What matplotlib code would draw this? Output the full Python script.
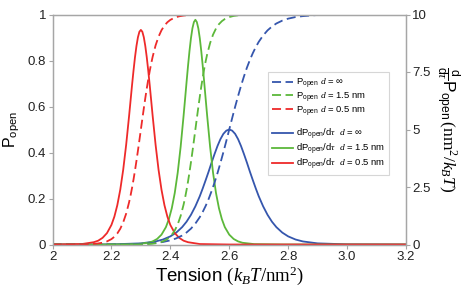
import matplotlib
matplotlib.use("Agg")
import matplotlib.pyplot as plt
from matplotlib.lines import Line2D

plt.rcParams['font.family'] = ['Liberation Sans', 'DejaVu Sans']
plt.rcParams['mathtext.fontset'] = 'custom'
plt.rcParams['mathtext.rm'] = 'Liberation Serif'
plt.rcParams['mathtext.sf'] = 'Liberation Sans'
plt.rcParams['mathtext.it'] = 'Liberation Serif:italic'

# data
# d = 0.5 nm (red)
x_red = [2.00, 2.10, 2.14, 2.155, 2.17, 2.185, 2.20, 2.21, 2.22, 2.23, 2.24, 2.25, 2.26, 2.265,
         2.27, 2.275, 2.28, 2.285, 2.29, 2.295, 2.30, 2.305, 2.31, 2.315, 2.32, 2.325, 2.33, 2.335,
         2.34, 2.35, 2.36, 2.37, 2.38, 2.39, 2.40, 2.415, 2.43, 2.445, 2.46, 2.50, 2.60, 3.20]
p_red = [0.0, 0.0006, 0.0026, 0.0045, 0.0078, 0.0135, 0.0234, 0.0336, 0.0481, 0.0684, 0.0965, 0.134,
         0.1836, 0.2132, 0.2462, 0.2823, 0.3217, 0.3636, 0.4078, 0.4535, 0.5, 0.5465, 0.5922, 0.6364,
         0.6783, 0.7177, 0.7538, 0.7868, 0.8164, 0.866, 0.9035, 0.9316, 0.9519, 0.9664, 0.9766, 0.9865,
         0.9922, 0.9955, 0.9974, 0.9994, 1.0, 1.0]
dp_red = [0.0, 0.02, 0.10, 0.165, 0.29, 0.497, 0.85, 1.21, 1.71, 2.38, 3.25, 4.33, 5.59, 6.26,
          6.93, 7.56, 8.14, 8.63, 9.01, 9.25, 9.33, 9.25, 9.01, 8.63, 8.14, 7.56, 6.93, 6.26,
          5.59, 4.33, 3.25, 2.38, 1.71, 1.21, 0.85, 0.497, 0.29, 0.165, 0.10, 0.02, 0.0, 0.0]

# d = 1.5 nm (green)
x_green = [2.00, 2.185, 2.285, 2.325, 2.34, 2.355, 2.37, 2.385, 2.395, 2.405, 2.415, 2.425, 2.435,
           2.445, 2.45, 2.455, 2.46, 2.465, 2.47, 2.475, 2.48, 2.485, 2.49, 2.495, 2.50, 2.505, 2.51,
           2.515, 2.52, 2.525, 2.535, 2.545, 2.555, 2.565, 2.575, 2.585, 2.60, 2.615, 2.63, 2.645,
           2.685, 2.785, 3.20]
p_green = [0.0, 0.0, 0.0004, 0.0019, 0.0035, 0.0062, 0.0111, 0.0197, 0.0289, 0.0421, 0.0610, 0.0875,
           0.1242, 0.1733, 0.2031, 0.2365, 0.2736, 0.3141, 0.3576, 0.4035, 0.4513, 0.5, 0.5487, 0.5965,
           0.6424, 0.6859, 0.7264, 0.7635, 0.7969, 0.8267, 0.8758, 0.9125, 0.9390, 0.9579, 0.9711,
           0.9803, 0.9889, 0.9938, 0.9965, 0.9981, 0.9996, 1.0, 1.0]
dp_green = [0.0, 0.0, 0.016, 0.075, 0.135, 0.240, 0.428, 0.755, 1.10, 1.58, 2.24, 3.12, 4.25,
            5.60, 6.32, 7.05, 7.76, 8.41, 8.97, 9.40, 9.67, 9.77, 9.67, 9.40, 8.97, 8.41, 7.76,
            7.05, 6.32, 5.60, 4.25, 3.12, 2.24, 1.58, 1.10, 0.755, 0.428, 0.240, 0.135, 0.075,
            0.016, 0.0, 0.0]

# d = inf (blue)
x_blue = [2.00, 2.20, 2.30, 2.35, 2.375, 2.40, 2.42, 2.44, 2.455, 2.47, 2.485, 2.50, 2.51, 2.52,
          2.53, 2.54, 2.55, 2.56, 2.57, 2.58, 2.59, 2.60, 2.61, 2.62, 2.63, 2.64, 2.65, 2.66, 2.67,
          2.68, 2.69, 2.70, 2.715, 2.73, 2.745, 2.76, 2.78, 2.80, 2.825, 2.85, 2.90, 3.00, 3.20]
p_blue = [0.0, 0.0003, 0.0025, 0.0067, 0.011, 0.018, 0.0266, 0.039, 0.0522, 0.069, 0.0911, 0.119,
          0.1419, 0.168, 0.1978, 0.232, 0.2689, 0.310, 0.3543, 0.401, 0.450, 0.5, 0.550, 0.599,
          0.6457, 0.690, 0.7311, 0.769, 0.8022, 0.832, 0.8581, 0.881, 0.9089, 0.931, 0.9478, 0.961,
          0.9734, 0.982, 0.989, 0.993, 0.998, 1.0, 1.0]
dp_blue = [0.0, 0.007, 0.049, 0.133, 0.217, 0.353, 0.518, 0.754, 0.99, 1.29, 1.66, 2.10, 2.44, 2.80,
           3.17, 3.56, 3.93, 4.28, 4.58, 4.81, 4.95, 5.0, 4.95, 4.81, 4.58, 4.28, 3.93, 3.56, 3.17,
           2.80, 2.44, 2.10, 1.66, 1.29, 0.99, 0.754, 0.518, 0.353, 0.217, 0.133, 0.049, 0.007, 0.0]

x_ticks = [2.0, 2.2, 2.4, 2.6, 2.8, 3.0, 3.2]
x_ticklabels = ['2', '2.2', '2.4', '2.6', '2.8', '3.0', '3.2']
y_ticks = [0, 0.2, 0.4, 0.6, 0.8, 1]
y_ticklabels = ['0', '0.2', '0.4', '0.6', '0.8', '1']
y2_ticks = [0, 2.5, 5, 7.5, 10]
y2_ticklabels = ['0', '2.5', '5', '7.5', '10']

blue = '#3556ad'
green = '#5cb83a'
red = '#ee2a2a'
gray = '#a6a6a6'
lw = 1.3
dash = (5, 2.5)

fig = plt.figure(figsize=(4.71, 2.93), dpi=100)
ax = fig.add_axes([52.5 / 471, 1 - 244.5 / 293, (406 - 52.5) / 471, 230 / 293])
ax2 = ax.twinx()

ax2.plot(x_blue, dp_blue, color=blue, lw=lw)
ax2.plot(x_green, dp_green, color=green, lw=lw)
ax2.plot(x_red, dp_red, color=red, lw=lw)
ax.plot(x_blue, p_blue, color=blue, lw=lw, dashes=dash)
ax.plot(x_green, p_green, color=green, lw=lw, dashes=dash)
ax.plot(x_red, p_red, color=red, lw=lw, dashes=dash)
ax.set_zorder(ax2.get_zorder() + 1)
ax.patch.set_visible(False)

ax.set_xlim(2, 3.2)
ax.set_ylim(0, 1)
ax2.set_ylim(0, 10)
ax.set_xticks(x_ticks)
ax.set_xticklabels(x_ticklabels)
ax.set_yticks(y_ticks)
ax.set_yticklabels(y_ticklabels)
ax2.set_yticks(y2_ticks)
ax2.set_yticklabels(y2_ticklabels)

for a in (ax, ax2):
    for s in a.spines.values():
        s.set_color(gray)
        s.set_linewidth(0.9)
    a.tick_params(colors=gray, labelcolor='#222222', labelsize=9.5, length=3, width=0.8, pad=1.5)

ax.set_xlabel(r'Tension $(k_BT/\mathrm{nm}^2)$', fontsize=13.5, labelpad=1)
ax.set_ylabel(r'P$_{\mathsf{open}}$', fontsize=11.5, labelpad=4)
ax2.set_ylabel(r'$\frac{\mathsf{d}}{\mathsf{d}\tau}$P$_{\mathsf{open}}$$\,(\mathrm{nm}^2/k_BT)$',
               fontsize=12.5, rotation=270, labelpad=22)

handles = [
    Line2D([], [], color=blue, lw=lw, dashes=dash),
    Line2D([], [], color=green, lw=lw, dashes=dash),
    Line2D([], [], color=red, lw=lw, dashes=dash),
    Line2D([], [], color='none'),
    Line2D([], [], color=blue, lw=lw),
    Line2D([], [], color=green, lw=lw),
    Line2D([], [], color=red, lw=lw),
]
labels = [
    r'P$_{\mathsf{open}}$ $d$ = ∞',
    r'P$_{\mathsf{open}}$ $d$ = 1.5 nm',
    r'P$_{\mathsf{open}}$ $d$ = 0.5 nm',
    ' ',
    r'dP$_{\mathsf{open}}$/d$\tau$  $d$ = ∞',
    r'dP$_{\mathsf{open}}$/d$\tau$  $d$ = 1.5 nm',
    r'dP$_{\mathsf{open}}$/d$\tau$  $d$ = 0.5 nm',
]
leg = ax.legend(handles, labels, loc='upper left', bbox_to_anchor=(268 / 471, 1 - 72 / 293),
                bbox_transform=fig.transFigure, fontsize=6.8, frameon=True, fancybox=False,
                handlelength=2.2, handletextpad=0.3, labelspacing=0.0, borderpad=0.45,
                borderaxespad=0)
leg.get_frame().set_edgecolor('#cccccc')
leg.get_frame().set_linewidth(0.8)

fig.savefig('out.png', dpi=100)
